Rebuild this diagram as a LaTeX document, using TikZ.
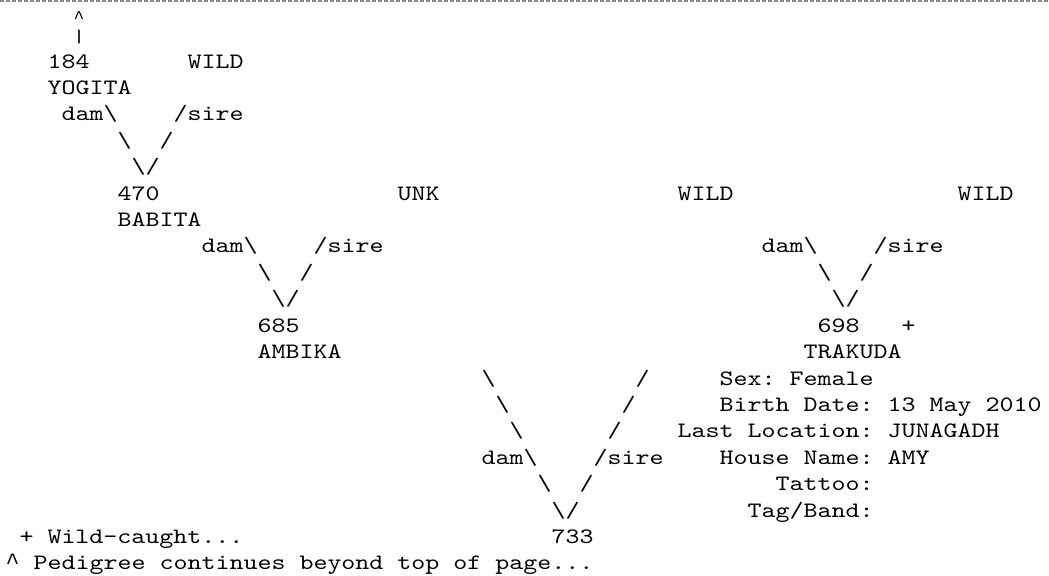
\documentclass[tikz,border=0pt]{standalone}
\usepackage{fontspec}
\newfontfamily\pedfont{Latin Modern Mono}[FakeStretch=1.2121]
\newfontfamily\caretfont{Liberation Mono}
\newcommand{\caret}{{\caretfont\fontsize{11.67pt}{13.2pt}\selectfont\textasciicircum}}
\usepackage{xcolor}
\definecolor{cRule}{HTML}{8A8A8A}
\usepackage{tikz}
\frenchspacing
\tikzset{
  ped/.style  = {inner sep=0pt, outer sep=0pt, anchor=base west,
                 font=\pedfont\fontsize{11pt}{13.2pt}\selectfont},
  top/.style  = {inner sep=0pt, outer sep=0pt, anchor=base,
                 font=\pedfont\fontsize{9pt}{10pt}\selectfont},
  rule/.style = {draw=cRule, line width=1pt, dash pattern=on 2pt off 1pt},
}

\begin{document}
\begin{tikzpicture}[x=7pt, y=-13.21pt]

  \useasboundingbox (-2.75pt,34pt) rectangle (521.75pt,-253.5pt);
  \coordinate (ruleL) at (-2.75pt,33.5pt);
  \coordinate (ruleR) at (521.75pt,33.5pt);
  \draw[rule] (ruleL) -- (ruleR);

  % first generation
  \node[top, font=\caretfont\fontsize{9pt}{10pt}\selectfont]
             (cont)   at (5.25,-1.70) {\textasciicircum};
  \node[top] (bar)    at (5.25,-0.96) {|};
  \node[ped] (n184)   at (3,0)  {184};
  \node[ped] (wildA)  at (13,0) {WILD};
  \node[ped] (yogita) at (3,1)  {YOGITA};
  \node[ped] (damA)   at (4,2)  {dam\textbackslash};
  \node[ped] (sireA)  at (12,2) {/sire};
  \node[ped] (lA)     at (8,3)  {\textbackslash};
  \node[ped] (rA)     at (11,3) {/};
  \node[ped] (vA)     at (9,4)  {\textbackslash/};

  % second generation
  \node[ped] (n470)   at (8,5)  {470};
  \node[ped] (unk)    at (28,5) {UNK};
  \node[ped] (wildB)  at (48,5) {WILD};
  \node[ped] (wildC)  at (68,5) {WILD};
  \node[ped] (babita) at (8,6)  {BABITA};
  \node[ped] (damB)   at (14,7) {dam\textbackslash};
  \node[ped] (sireB)  at (22,7) {/sire};
  \node[ped] (damC)   at (54,7) {dam\textbackslash};
  \node[ped] (sireC)  at (62,7) {/sire};
  \node[ped] (lB)     at (18,8) {\textbackslash};
  \node[ped] (rB)     at (21,8) {/};
  \node[ped] (lC)     at (58,8) {\textbackslash};
  \node[ped] (rC)     at (61,8) {/};
  \node[ped] (vB)     at (19,9) {\textbackslash/};
  \node[ped] (vC)     at (59,9) {\textbackslash/};

  % parents of 733
  \node[ped] (n685)    at (18,10) {685};
  \node[ped] (n698)    at (58,10) {698};
  \node[ped] (wc)      at (64,10) {+};
  \node[ped] (ambika)  at (18,11) {AMBIKA};
  \node[ped] (trakuda) at (57,11) {TRAKUDA};

  \foreach \r/\c in {12/34, 13/35, 14/36}
    \node[ped] (lD\r) at (\c,\r) {\textbackslash};
  \foreach \r/\c in {12/45, 13/44, 14/43}
    \node[ped] (rD\r) at (\c,\r) {/};
  \node[ped] (damD)  at (34,15) {dam\textbackslash};
  \node[ped] (sireD) at (42,15) {/sire};
  \node[ped] (lD)    at (38,16) {\textbackslash};
  \node[ped] (rD)    at (41,16) {/};
  \node[ped] (vD)    at (39,17) {\textbackslash/};
  \node[ped] (n733)  at (39,18) {733};

  % details of 698
  \node[ped] (sex)   at (51,12) {Sex: Female};
  \node[ped] (birth) at (51,13) {Birth Date: 13 May 2010};
  \node[ped] (loc)   at (48,14) {Last Location: JUNAGADH};
  \node[ped] (house) at (51,15) {House Name: AMY};
  \node[ped] (tatt)  at (55,16) {Tattoo:};
  \node[ped] (tag)   at (53,17) {Tag/Band:};

  % legend
  \node[ped] (keyA) at (1,18) {+ Wild-caught...};
  \node[ped] (keyB) at (0,19) {\caret{} Pedigree continues beyond top of page...};

\end{tikzpicture}
\end{document}
